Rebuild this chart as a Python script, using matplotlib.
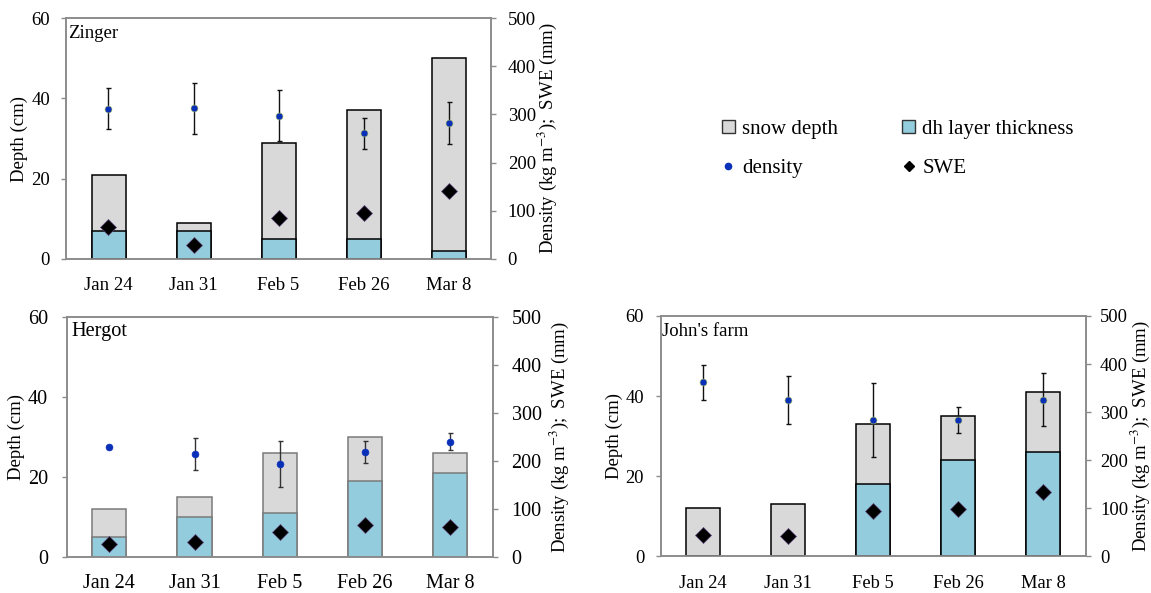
import matplotlib
matplotlib.use("Agg")
import matplotlib.pyplot as plt
from matplotlib.patches import Patch
from matplotlib.lines import Line2D

plt.rcParams['font.family'] = ['Liberation Serif', 'DejaVu Serif']
plt.rcParams['mathtext.fontset'] = 'stix'

dates = ['Jan 24', 'Jan 31', 'Feb 5', 'Feb 26', 'Mar 8']

zinger_depth = [21, 9, 29, 37, 50]
zinger_dh = [7, 7, 5, 5, 2]
zinger_density = [312, 313, 297, 261, 282]
zinger_density_err = [42, 53, 53, 32, 43]
zinger_swe = [65, 28, 85, 96, 141]

hergot_depth = [12, 15, 26, 30, 26]
hergot_dh = [5, 10, 11, 19, 21]
hergot_density = [229, 214, 194, 219, 240]
hergot_density_err = [0, 33, 48, 23, 17]
hergot_swe = [27, 32, 51, 66, 62]

johns_depth = [12, 13, 33, 35, 41]
johns_dh = [0, 0, 18, 24, 26]
johns_density = [362, 325, 283, 284, 326]
johns_density_err = [36, 50, 77, 27, 55]
johns_swe = [44, 42, 94, 99, 133]

SNOW_COLOR = '#d9d9d9'
DH_COLOR = '#93cddd'
DENS_COLOR = '#0a2fb8'
SPINE_COLOR = '#8c8c8c'
LABEL_FS = 13.5

W, H = 1151, 593
fig = plt.figure(figsize=(W / 100, H / 100), dpi=100)


def box(l, t, r, b):
    return [l / W, 1 - b / H, (r - l) / W, (b - t) / H]


def panel(rect, name, depth, dh, density, dens_err, swe, style):
    ax = fig.add_axes(rect)
    x = list(range(len(dates)))
    edge = style['edge']
    ax.bar(x, depth, width=0.4, color=SNOW_COLOR, edgecolor=edge, linewidth=1.1, zorder=2)
    ax.bar(x, dh, width=0.4, color=DH_COLOR, edgecolor=edge, linewidth=1.1, zorder=3)
    ax.set_xlim(-0.5, len(dates) - 0.5)
    ax.set_ylim(0, 60)
    ax.set_yticks([0, 20, 40, 60])
    ax.set_xticks(x)
    ax.set_xticklabels(dates)
    ax.tick_params(axis='x', length=0, pad=style['xpad'], labelsize=style['tick_fs'])
    ax.tick_params(axis='y', direction='out', length=3.6, width=1, color=SPINE_COLOR,
                   labelsize=style['tick_fs'], pad=style['lpad'])
    ax.set_ylabel('Depth (cm)', fontsize=LABEL_FS)
    ax.yaxis.set_label_coords(style['lx'], 0.5)
    for s in ax.spines.values():
        s.set_color(SPINE_COLOR)
        s.set_linewidth(1.2)
    ax.text(style['tx'], 0.937, name, transform=ax.transAxes, fontsize=style['title_fs'],
            ha='left', va='center', zorder=5)

    ax2 = ax.twinx()
    ax2.set_ylim(0, 500)
    ax2.set_yticks([0, 100, 200, 300, 400, 500])
    ax2.tick_params(axis='y', direction='out', length=3.6, width=1, color=SPINE_COLOR,
                    labelsize=style['tick_fs'], pad=style['rpad'])
    for s in ax2.spines.values():
        s.set_color(SPINE_COLOR)
        s.set_linewidth(1.2)
    ax2.set_ylabel(r'Density (kg m$^{-3}$);  SWE (mm)', fontsize=LABEL_FS)
    ax2.yaxis.set_label_coords(style['rx'], 0.5)
    errs = [e if e > 0 else float('nan') for e in dens_err]
    ax2.errorbar(x, density, yerr=errs, fmt='none', ecolor=style['err'], elinewidth=1,
                 capsize=1.8, capthick=1, zorder=4)
    ax2.plot(x, density, linestyle='none', marker='o', markersize=5,
             markerfacecolor=DENS_COLOR, markeredgecolor=style['dot_edge'],
             markeredgewidth=0.4, zorder=5)
    ax2.plot(x, swe, linestyle='none', marker='D', markersize=8,
             markerfacecolor='black', markeredgecolor='#5c4578', markeredgewidth=0.5,
             zorder=5)
    return ax, ax2


zinger_style = dict(edge='black', dot_edge='#a8c060', err='#111111', tick_fs=13.5,
                    title_fs=13.5, xpad=13.5, lpad=8, rpad=8.4,
                    lx=-0.0894, rx=1.106, tx=0.006)
hergot_style = dict(edge='#7a7a7a', dot_edge=DENS_COLOR, err='#333333', tick_fs=14.5,
                    title_fs=14.7, xpad=12, lpad=10, rpad=10,
                    lx=-0.097, rx=1.129, tx=0.012)
johns_style = dict(edge='black', dot_edge='#a8c060', err='#111111', tick_fs=13.3,
                   title_fs=13.5, xpad=13.5, lpad=8.3, rpad=6.8,
                   lx=-0.0887, rx=1.101, tx=0.004)

panel(box(66, 18.3, 491, 258.7), 'Zinger', zinger_depth, zinger_dh, zinger_density,
      zinger_density_err, zinger_swe, zinger_style)
panel(box(66.7, 316.7, 492.7, 557), 'Hergot', hergot_depth, hergot_dh, hergot_density,
      hergot_density_err, hergot_swe, hergot_style)
panel(box(660.7, 316, 1085.6, 556.2), "John's farm", johns_depth, johns_dh,
      johns_density, johns_density_err, johns_swe, johns_style)

handles = [
    Patch(facecolor=SNOW_COLOR, edgecolor='#333333', linewidth=1),
    Line2D([], [], linestyle='none', marker='o', markersize=4.5,
           markerfacecolor=DENS_COLOR, markeredgecolor=DENS_COLOR),
    Patch(facecolor=DH_COLOR, edgecolor='#333333', linewidth=1),
    Line2D([], [], linestyle='none', marker='D', markersize=5.5,
           markerfacecolor='black', markeredgecolor='black'),
]
labels = ['snow depth', 'density', 'dh layer thickness', 'SWE']
fig.legend(handles, labels, ncol=2, loc='upper left',
           bbox_to_anchor=(722 / W, 1 - 120 / H), frameon=False, fontsize=15,
           handlelength=0.6, handleheight=0.55, handletextpad=0.35,
           labelspacing=0.95, columnspacing=3.1, borderpad=0, borderaxespad=0)

fig.savefig('out.png', dpi=100)
